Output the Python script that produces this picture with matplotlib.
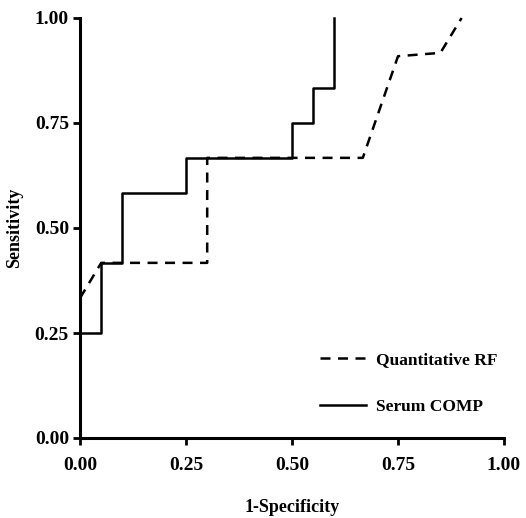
import matplotlib
matplotlib.use('Agg')
import matplotlib.pyplot as plt

plt.rcParams['font.family'] = 'Liberation Serif'
plt.rcParams['font.weight'] = 'bold'

# ROC curve points
comp_x = [0.0, 0.05, 0.05, 0.10, 0.10, 0.25, 0.25, 0.50, 0.50, 0.55, 0.55, 0.60, 0.60]
comp_y = [0.25, 0.25, 0.417, 0.417, 0.583, 0.583, 0.667, 0.667, 0.75, 0.75, 0.833, 0.833, 1.0]

rf_x = [0.0, 0.05, 0.30, 0.30, 0.667, 0.75, 0.85, 0.90]
rf_y = [0.333, 0.417, 0.417, 0.667, 0.667, 0.909, 0.917, 1.0]

ticks = [0.0, 0.25, 0.5, 0.75, 1.0]
tick_labels = ['0.00', '0.25', '0.50', '0.75', '1.00']

fig = plt.figure(figsize=(5.26, 5.18), dpi=100)
ax = fig.add_axes([80 / 526, 80 / 518, 424 / 526, 420 / 518])

ax.plot(rf_x, rf_y, color='black', lw=1.8, linestyle=(0, (4, 3)),
        label='Quantitative RF', clip_on=False)
ax.plot(comp_x, comp_y, color='black', lw=1.8, label='Serum COMP', clip_on=False)

ax.set_xlim(0, 1)
ax.set_ylim(0, 1)
ax.set_xticks(ticks)
ax.set_xticklabels(tick_labels)
ax.set_yticks(ticks)
ax.set_yticklabels(tick_labels)

for s in ['top', 'right']:
    ax.spines[s].set_visible(False)
for s in ['left', 'bottom']:
    ax.spines[s].set_linewidth(2.2)

ax.tick_params(direction='out', length=5, width=2, labelsize=14, pad=3)
ax.tick_params(axis='x', pad=9)

ax.set_xlabel('1-Specificity', fontsize=13, fontweight='bold', labelpad=18)
ax.set_ylabel('Sensitivity', fontsize=13, fontweight='bold', labelpad=8)

ax.legend(loc='upper left', bbox_to_anchor=(0.565, 0.205), frameon=False,
          fontsize=12.5, handlelength=2.7, handletextpad=0.55, labelspacing=1.75,
          borderpad=0, borderaxespad=0)

fig.savefig('out.png', dpi=100)
